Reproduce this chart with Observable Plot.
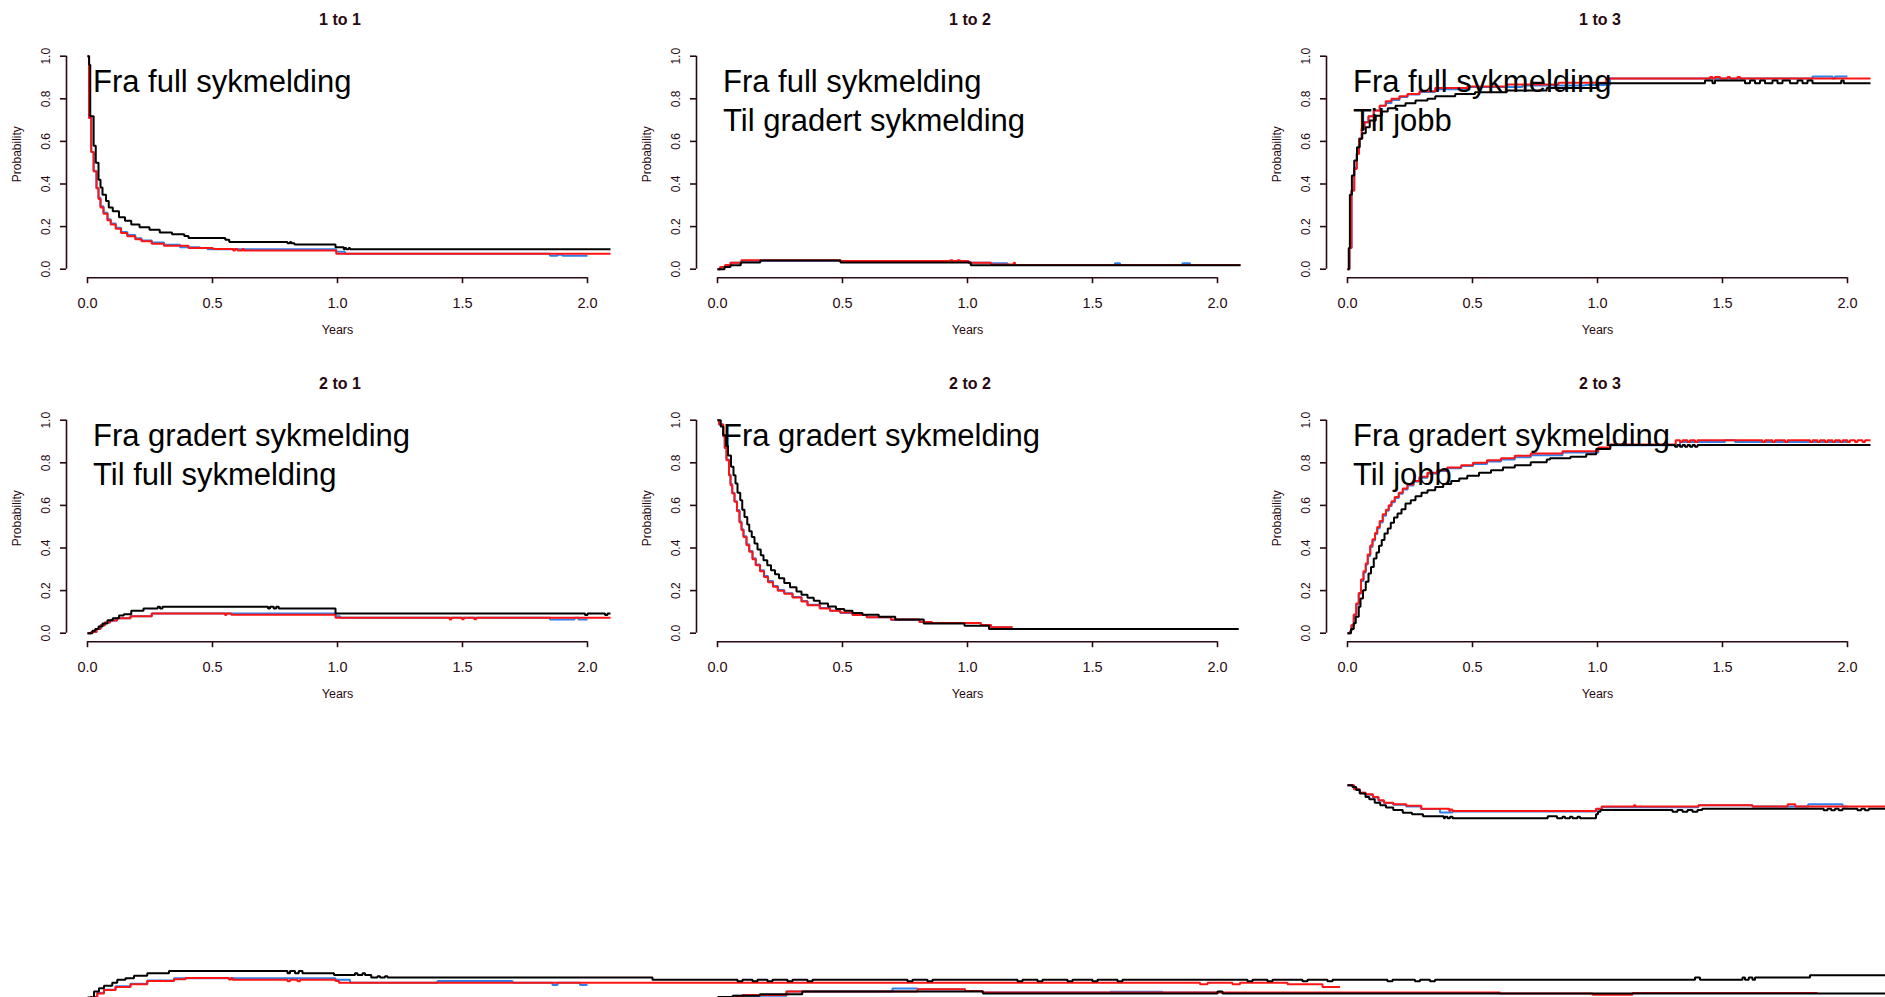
<!DOCTYPE html>
<html>
<head>
<meta charset="utf-8">
<script src="https://cdn.jsdelivr.net/npm/d3@7"></script>
<script src="https://cdn.jsdelivr.net/npm/@observablehq/plot@0.6"></script>
<style>
  html, body { margin: 0; padding: 0; background: #fff; overflow: hidden; }
  #page { position: relative; width: 1885px; height: 997px; overflow: hidden; background: #fff;
          font-family: "Liberation Sans", Arial, sans-serif; }
  .cell { position: absolute; }
</style>
</head>
<body>
<div id="page"></div>
<script>
// ---- axis ticks and panel texts ----
const yTicks = [0, 0.2, 0.4, 0.6, 0.8, 1.0];
const xTicks = [0, 0.5, 1.0, 1.5, 2.0];
const panelTitles = ["1 to 1", "1 to 2", "1 to 3", "2 to 1", "2 to 2", "2 to 3"];
const panelNotes = [
  ["Fra full sykmelding"],
  ["Fra full sykmelding", "Til gradert sykmelding"],
  ["Fra full sykmelding", "Til jobb"],
  ["Fra gradert sykmelding", "Til full sykmelding"],
  ["Fra gradert sykmelding"],
  ["Fra gradert sykmelding", "Til jobb"]
];
const noteX = 0.022;                       // years
const noteY = [[0.88, 0.695], [0.925, 0.742]]; // per row, one per text line

// ---- estimated transition probabilities: [years, probability], step functions ----
// 1 -> 1
const black11 = [[0,1],[0.0065,0.96],[0.011,0.718],[0.0245,0.58],[0.033,0.50],[0.044,0.42],[0.052,0.383],[0.060,0.35],[0.074,0.32],[0.085,0.29],[0.101,0.272],[0.126,0.244],[0.150,0.228],[0.175,0.21],[0.208,0.197],[0.248,0.185],[0.289,0.172],[0.338,0.164],[0.387,0.156],[0.404,0.147],[0.551,0.138],[0.567,0.128],[0.80,0.122],[0.81,0.128],[0.815,0.122],[0.828,0.116],[0.992,0.103],[1.025,0.094],[1.03,0.10],[1.035,0.094],[1.045,0.10],[1.05,0.094],[2.092,0.094]];
const red11 = [[0,1],[0.006,0.71],[0.015,0.55],[0.0245,0.46],[0.036,0.38],[0.044,0.33],[0.052,0.29],[0.064,0.26],[0.080,0.23],[0.093,0.21],[0.113,0.19],[0.134,0.17],[0.159,0.155],[0.191,0.141],[0.216,0.131],[0.257,0.119],[0.306,0.11],[0.404,0.10],[0.502,0.095],[0.583,0.088],[0.59,0.095],[0.60,0.088],[0.62,0.095],[0.625,0.088],[0.995,0.072],[2.092,0.072]];
const blue11 = [[0,1],[0.006,0.71],[0.015,0.55],[0.0245,0.46],[0.036,0.38],[0.044,0.335],[0.052,0.295],[0.064,0.265],[0.080,0.235],[0.093,0.215],[0.113,0.195],[0.134,0.175],[0.159,0.16],[0.191,0.145],[0.216,0.135],[0.257,0.125],[0.306,0.115],[0.37,0.103],[0.45,0.10],[0.48,0.094],[0.995,0.082],[1.03,0.072],[1.85,0.063],[1.88,0.068],[1.90,0.063],[2.0,0.063]];
// 1 -> 2
const black12 = [[0,0],[0.028,0.01],[0.052,0.019],[0.093,0.031],[0.171,0.041],[0.492,0.031],[1.013,0.019],[2.092,0.019]];
const red12 = [[0,0],[0.011,0.01],[0.031,0.02],[0.052,0.03],[0.096,0.042],[0.492,0.038],[0.93,0.042],[0.94,0.038],[0.96,0.042],[0.97,0.038],[1.004,0.03],[1.094,0.022],[1.185,0.03],[1.19,0.02],[2.092,0.02]];
const blue12 = [[0,0],[0.011,0.01],[0.031,0.02],[0.052,0.03],[0.096,0.04],[0.492,0.036],[1.004,0.03],[1.094,0.028],[1.16,0.02],[1.59,0.028],[1.61,0.02],[1.86,0.028],[1.89,0.02],[2.0,0.02]];
// 1 -> 3
const black13 = [[0,0],[0.005,0.1],[0.0095,0.349],[0.0175,0.44],[0.027,0.51],[0.038,0.573],[0.049,0.612],[0.059,0.638],[0.073,0.667],[0.089,0.698],[0.113,0.721],[0.137,0.74],[0.161,0.756],[0.192,0.768],[0.232,0.779],[0.272,0.792],[0.32,0.80],[0.351,0.812],[0.431,0.823],[0.51,0.831],[0.637,0.839],[0.797,0.851],[1.003,0.873],[1.43,0.886],[1.46,0.873],[1.47,0.886],[1.59,0.873],[1.61,0.886],[1.63,0.873],[1.65,0.886],[1.67,0.873],[1.70,0.886],[1.72,0.873],[1.74,0.886],[1.77,0.873],[1.80,0.886],[1.82,0.873],[1.84,0.886],[1.86,0.873],[1.975,0.886],[1.985,0.873],[2.092,0.873]];
const red13 = [[0,0],[0.008,0.1],[0.016,0.369],[0.027,0.471],[0.037,0.541],[0.046,0.612],[0.057,0.659],[0.068,0.69],[0.084,0.718],[0.105,0.745],[0.129,0.768],[0.153,0.789],[0.176,0.80],[0.208,0.812],[0.24,0.823],[0.288,0.836],[0.351,0.851],[0.48,0.858],[0.637,0.867],[0.844,0.876],[1.035,0.895],[1.45,0.903],[1.46,0.895],[1.47,0.903],[1.49,0.895],[1.52,0.903],[1.53,0.895],[1.56,0.903],[1.57,0.895],[2.092,0.895]];
const blue13 = [[0,0],[0.008,0.1],[0.016,0.369],[0.027,0.475],[0.037,0.545],[0.046,0.612],[0.057,0.659],[0.068,0.69],[0.084,0.718],[0.105,0.745],[0.129,0.768],[0.153,0.78],[0.176,0.795],[0.208,0.808],[0.24,0.82],[0.288,0.832],[0.351,0.845],[0.48,0.855],[0.7,0.862],[0.95,0.865],[1.05,0.895],[1.86,0.905],[1.94,0.895],[1.95,0.905],[2.0,0.905]];
// 2 -> 1
const black21 = [[0,0],[0.0196,0.011],[0.031,0.02],[0.044,0.031],[0.06,0.045],[0.08,0.061],[0.101,0.07],[0.126,0.083],[0.145,0.089],[0.175,0.105],[0.224,0.116],[0.281,0.124],[0.29,0.116],[0.30,0.124],[0.722,0.116],[0.73,0.124],[0.745,0.116],[0.755,0.124],[0.765,0.116],[0.992,0.092],[1.99,0.085],[2.0,0.092],[2.07,0.085],[2.08,0.092],[2.092,0.092]];
const red21 = [[0,0],[0.015,0.005],[0.036,0.02],[0.052,0.036],[0.069,0.05],[0.09,0.059],[0.118,0.07],[0.172,0.08],[0.257,0.092],[0.55,0.085],[0.556,0.092],[0.575,0.086],[0.992,0.072],[1.449,0.064],[1.455,0.072],[1.498,0.066],[1.505,0.072],[1.547,0.066],[1.555,0.072],[2.092,0.072]];
const blue21 = [[0,0],[0.015,0.005],[0.036,0.02],[0.052,0.038],[0.069,0.05],[0.09,0.06],[0.118,0.07],[0.172,0.08],[0.257,0.092],[0.992,0.08],[1.01,0.072],[1.85,0.064],[1.948,0.072],[1.964,0.064],[2.0,0.064]];
// 2 -> 2
const black22 = [[0,1],[0.013,0.97],[0.023,0.93],[0.034,0.879],[0.042,0.834],[0.054,0.781],[0.064,0.742],[0.072,0.703],[0.08,0.659],[0.091,0.624],[0.099,0.58],[0.108,0.546],[0.119,0.51],[0.127,0.479],[0.137,0.452],[0.148,0.421],[0.16,0.393],[0.173,0.366],[0.184,0.343],[0.199,0.319],[0.214,0.296],[0.23,0.277],[0.246,0.258],[0.267,0.236],[0.29,0.216],[0.316,0.196],[0.336,0.18],[0.36,0.166],[0.385,0.152],[0.409,0.139],[0.442,0.125],[0.474,0.114],[0.507,0.105],[0.54,0.095],[0.58,0.086],[0.645,0.077],[0.711,0.064],[0.825,0.045],[0.988,0.035],[1.086,0.02],[2.085,0.02]];
const red22 = [[0,1],[0.0065,0.98],[0.023,0.925],[0.029,0.87],[0.036,0.812],[0.046,0.742],[0.052,0.695],[0.059,0.656],[0.068,0.617],[0.078,0.573],[0.088,0.52],[0.096,0.484],[0.104,0.452],[0.116,0.413],[0.127,0.382],[0.14,0.347],[0.153,0.319],[0.17,0.291],[0.186,0.264],[0.202,0.239],[0.222,0.218],[0.241,0.199],[0.267,0.185],[0.3,0.167],[0.336,0.149],[0.36,0.131],[0.409,0.116],[0.45,0.105],[0.491,0.097],[0.54,0.085],[0.597,0.075],[0.694,0.064],[0.808,0.053],[0.857,0.048],[1.053,0.038],[1.094,0.028],[1.18,0.028]];
const blue22 = [[0,1],[0.0065,0.98],[0.023,0.925],[0.029,0.87],[0.036,0.815],[0.046,0.745],[0.052,0.70],[0.059,0.66],[0.068,0.62],[0.078,0.578],[0.088,0.525],[0.096,0.488],[0.104,0.455],[0.116,0.418],[0.127,0.386],[0.14,0.352],[0.153,0.322],[0.17,0.295],[0.186,0.268],[0.202,0.245],[0.222,0.222],[0.241,0.203],[0.267,0.188],[0.3,0.17],[0.336,0.151],[0.36,0.134],[0.409,0.118],[0.45,0.105],[0.491,0.095],[0.54,0.085],[0.597,0.075],[0.694,0.062],[0.808,0.053],[0.857,0.048],[1.053,0.038],[1.094,0.028],[1.18,0.028]];
// 2 -> 3
const black23 = [[0,0],[0.014,0.02],[0.025,0.047],[0.033,0.077],[0.045,0.124],[0.052,0.163],[0.062,0.202],[0.073,0.241],[0.084,0.28],[0.094,0.311],[0.105,0.351],[0.116,0.379],[0.126,0.41],[0.137,0.437],[0.148,0.468],[0.161,0.491],[0.173,0.518],[0.186,0.543],[0.2,0.562],[0.216,0.582],[0.232,0.609],[0.253,0.624],[0.272,0.643],[0.296,0.659],[0.32,0.671],[0.351,0.687],[0.383,0.70],[0.415,0.715],[0.447,0.726],[0.479,0.739],[0.526,0.753],[0.574,0.765],[0.622,0.778],[0.669,0.789],[0.733,0.803],[0.797,0.815],[0.81,0.822],[0.892,0.828],[0.955,0.84],[0.995,0.865],[1.051,0.884],[1.31,0.876],[1.32,0.884],[1.33,0.876],[1.34,0.884],[1.35,0.876],[1.36,0.884],[1.37,0.876],[1.38,0.884],[1.39,0.876],[1.40,0.884],[2.092,0.884]];
const red23 = [[0,0],[0.011,0.01],[0.016,0.038],[0.025,0.088],[0.035,0.139],[0.045,0.189],[0.054,0.252],[0.064,0.291],[0.073,0.327],[0.081,0.369],[0.091,0.412],[0.1,0.441],[0.11,0.471],[0.119,0.499],[0.129,0.527],[0.141,0.559],[0.154,0.58],[0.165,0.601],[0.176,0.62],[0.189,0.64],[0.205,0.66],[0.221,0.679],[0.24,0.698],[0.264,0.715],[0.288,0.734],[0.32,0.753],[0.359,0.765],[0.399,0.778],[0.455,0.789],[0.502,0.80],[0.558,0.812],[0.614,0.822],[0.669,0.833],[0.733,0.844],[0.86,0.854],[1.003,0.872],[1.051,0.886],[1.313,0.906],[1.33,0.898],[1.34,0.906],[1.36,0.898],[1.37,0.906],[1.39,0.898],[1.40,0.906],[1.66,0.898],[1.67,0.906],[1.70,0.898],[1.71,0.906],[1.75,0.898],[1.76,0.906],[1.85,0.898],[1.86,0.906],[1.88,0.898],[1.89,0.906],[1.91,0.898],[1.92,0.906],[1.94,0.898],[1.95,0.906],[1.97,0.898],[1.98,0.906],[2.00,0.898],[2.01,0.906],[2.03,0.898],[2.04,0.906],[2.06,0.898],[2.07,0.906],[2.092,0.906]];
const blue23 = [[0,0],[0.011,0.01],[0.016,0.035],[0.025,0.085],[0.035,0.135],[0.045,0.185],[0.054,0.245],[0.064,0.285],[0.073,0.322],[0.081,0.362],[0.091,0.405],[0.1,0.435],[0.11,0.465],[0.119,0.493],[0.129,0.52],[0.141,0.552],[0.154,0.575],[0.165,0.596],[0.176,0.615],[0.189,0.635],[0.205,0.655],[0.221,0.675],[0.24,0.694],[0.264,0.712],[0.288,0.73],[0.32,0.75],[0.359,0.762],[0.399,0.774],[0.455,0.785],[0.502,0.795],[0.558,0.806],[0.614,0.815],[0.669,0.826],[0.733,0.836],[0.86,0.848],[1.003,0.87],[1.051,0.882],[1.33,0.898],[1.5,0.898],[1.51,0.906],[1.55,0.898],[2.0,0.898]];
// third row (3 -> 1, 3 -> 2, 3 -> 3), plotted without axes
const black31 = [[0,0.003],[0.026,0.031],[0.046,0.047],[0.066,0.058],[0.099,0.073],[0.119,0.086],[0.152,0.094],[0.186,0.105],[0.239,0.117],[0.326,0.128],[0.80,0.117],[0.81,0.128],[0.83,0.117],[0.845,0.128],[0.86,0.117],[0.986,0.109],[1.07,0.117],[1.08,0.109],[1.10,0.117],[1.11,0.109],[1.135,0.097],[1.16,0.103],[1.17,0.097],[1.19,0.103],[1.20,0.097],[2.26,0.086],[2.60,0.080],[2.62,0.086],[2.66,0.080],[2.68,0.086],[2.72,0.080],[2.74,0.086],[2.80,0.080],[2.82,0.086],[2.88,0.080],[2.90,0.086],[3.28,0.080],[3.30,0.086],[3.36,0.080],[3.38,0.086],[3.72,0.080],[3.74,0.086],[3.80,0.080],[3.82,0.086],[3.92,0.080],[3.94,0.086],[4.02,0.080],[4.04,0.086],[4.12,0.080],[4.14,0.086],[4.64,0.080],[4.66,0.086],[4.72,0.080],[4.74,0.086],[4.86,0.080],[4.88,0.086],[4.96,0.080],[4.98,0.086],[5.20,0.080],[5.22,0.086],[5.31,0.080],[5.33,0.086],[5.37,0.080],[5.39,0.086],[6.43,0.097],[6.45,0.086],[6.62,0.097],[6.63,0.086],[6.645,0.097],[6.66,0.086],[6.67,0.097],[6.89,0.108],[7.2,0.108]];
const red31 = [[0,0],[0.012,0.006],[0.039,0.022],[0.066,0.038],[0.112,0.053],[0.172,0.066],[0.239,0.081],[0.346,0.089],[0.392,0.095],[0.565,0.088],[0.575,0.095],[0.58,0.086],[0.80,0.08],[0.81,0.086],[0.84,0.08],[0.85,0.086],[0.992,0.081],[1.006,0.073],[4.45,0.066],[4.48,0.073],[4.58,0.066],[4.61,0.073],[4.80,0.066],[4.94,0.053],[5.01,0.053]];
const blue31 = [[0,0],[0.012,0.006],[0.039,0.024],[0.066,0.04],[0.112,0.056],[0.172,0.068],[0.239,0.083],[0.346,0.094],[0.992,0.086],[1.05,0.073],[1.4,0.081],[1.7,0.073],[1.86,0.062],[1.88,0.073],[1.97,0.062],[2.0,0.062]];
const black32 = [[0,0.006],[0.062,0.011],[0.169,0.019],[0.339,0.031],[1.062,0.022],[2.0,0.031],[2.02,0.022],[4.67,0.022]];
const red32 = [[0,0],[0.03,0.006],[0.1,0.015],[0.276,0.031],[0.80,0.042],[0.99,0.034],[1.06,0.027],[3.13,0.022],[3.5,0.016],[3.66,0.024],[4.4,0.024]];
const blue32 = [[0,0],[0.06,0.011],[0.276,0.031],[0.70,0.045],[0.80,0.042],[0.99,0.034],[1.06,0.027],[1.57,0.03],[1.78,0.027],[2.0,0.027]];
const black33 = [[0,1],[0.02,0.992],[0.035,0.977],[0.049,0.961],[0.072,0.945],[0.087,0.934],[0.109,0.918],[0.131,0.906],[0.154,0.895],[0.183,0.884],[0.221,0.871],[0.258,0.864],[0.302,0.854],[0.385,0.845],[0.39,0.852],[0.40,0.845],[0.41,0.852],[0.42,0.845],[0.801,0.854],[0.838,0.845],[0.86,0.852],[0.87,0.845],[0.89,0.852],[0.90,0.845],[0.92,0.852],[0.93,0.845],[0.994,0.864],[1.002,0.875],[1.012,0.884],[1.30,0.875],[1.32,0.884],[1.34,0.875],[1.36,0.884],[1.38,0.875],[1.40,0.884],[1.419,0.89],[1.905,0.882],[1.92,0.89],[1.935,0.882],[1.95,0.89],[1.965,0.882],[1.98,0.89],[2.04,0.882],[2.055,0.89],[2.07,0.882],[2.085,0.89],[2.16,0.89]];
const red33 = [[0,1],[0.026,0.981],[0.049,0.965],[0.072,0.958],[0.102,0.945],[0.124,0.929],[0.146,0.918],[0.183,0.911],[0.235,0.903],[0.295,0.89],[0.407,0.879],[0.41,0.886],[0.42,0.879],[0.994,0.89],[1.017,0.90],[1.146,0.906],[1.152,0.90],[1.404,0.906],[1.62,0.90],[1.761,0.911],[1.791,0.90],[2.16,0.90]];
const blue33 = [[0,1],[0.026,0.981],[0.049,0.965],[0.072,0.955],[0.102,0.942],[0.124,0.927],[0.146,0.916],[0.183,0.908],[0.235,0.9],[0.295,0.888],[0.37,0.872],[0.42,0.877],[0.994,0.885],[1.017,0.897],[1.404,0.906],[1.62,0.90],[1.843,0.911],[1.98,0.90],[2.0,0.90]];

const panelSeries = [
  [blue11, red11, black11], [blue12, red12, black12], [blue13, red13, black13],
  [blue21, red21, black21], [blue22, red22, black22], [blue23, red23, black23]
];
const lowerSeries = [[blue31, red31, black31], [blue32, red32, black32], [blue33, red33, black33]];

// ---- layout ----
const INK = "#2a0a12";
const SERIES_COLORS = ["#2f80ed", "#ff1414", "#000000"];
const X0 = -0.084, X1 = 2.176;
const Y_DOMAIN = [-0.04, 1.04];
const PX_PER_YEAR = 250;
const M_LEFT = 66, M_TOP = 47.2, PLOT_H = 230, SVG_H = 364;
const colLeft = [0, 630, 1260.4];
const rowTop = [0, 364.3, 728.6];
const page = document.getElementById("page");

const baseStyle = {background: "transparent", maxWidth: "none", overflow: "visible",
  fontFamily: "'Liberation Sans', Arial, Helvetica, sans-serif"};

function stepLines(seriesList) {
  return seriesList.map((data, k) => Plot.line(data, {
    x: d => d[0], y: d => d[1], curve: "step-after",
    stroke: SERIES_COLORS[k], strokeWidth: 2, strokeLinejoin: "miter", strokeLinecap: "butt"
  }));
}

function place(svg, left, top, width) {
  const div = document.createElement("div");
  div.className = "cell";
  div.style.left = left + "px";
  div.style.top = top + "px";
  div.style.width = width + "px";
  div.appendChild(svg);
  page.appendChild(div);
}

function drawPanel(i) {
  const row = Math.floor(i / 3), col = i % 3;
  const width = M_LEFT + (X1 - X0) * PX_PER_YEAR;
  const notes = panelNotes[i];
  const chart = Plot.plot({
    width, height: SVG_H,
    marginLeft: M_LEFT, marginRight: 0, marginTop: M_TOP, marginBottom: SVG_H - M_TOP - PLOT_H,
    x: {domain: [X0, X1]},
    y: {domain: Y_DOMAIN},
    style: baseStyle,
    marks: [
      // axis lines span the tick range, as in base R graphics
      Plot.ruleX([X0], {y1: yTicks[0], y2: yTicks[yTicks.length - 1], stroke: INK, strokeWidth: 1.6}),
      Plot.ruleY([Y_DOMAIN[0]], {x1: xTicks[0], x2: xTicks[xTicks.length - 1], stroke: INK, strokeWidth: 1.6}),
      Plot.axisY(yTicks, {tickSize: 6, tickFormat: () => "", label: null, color: INK, strokeWidth: 1.6}),
      Plot.axisX(xTicks, {tickSize: 6, tickFormat: () => "", label: null, color: INK, strokeWidth: 1.6}),
      Plot.text(yTicks, {frameAnchor: "left", y: d => d, text: d => d.toFixed(1), rotate: -90, dx: -20,
        textAnchor: "middle", lineAnchor: "middle", fontSize: 12, fill: INK}),
      Plot.text(xTicks, {frameAnchor: "bottom", x: d => d, text: d => d.toFixed(1), dy: 26,
        textAnchor: "middle", lineAnchor: "middle", fontSize: 14.5, fill: INK}),
      Plot.text(["Probability"], {frameAnchor: "left", y: 0.54, text: d => d, rotate: -90, dx: -49,
        textAnchor: "middle", lineAnchor: "middle", fontSize: 12, fill: INK}),
      Plot.text(["Years"], {frameAnchor: "bottom", x: 1, text: d => d, dy: 52.5,
        textAnchor: "middle", lineAnchor: "middle", fontSize: 12.5, fill: INK}),
      Plot.text([panelTitles[i]], {frameAnchor: "top", x: 1.01, text: d => d, dy: 19 - M_TOP,
        textAnchor: "middle", lineAnchor: "middle", fontSize: 16, fontWeight: "bold", fill: INK}),
      ...stepLines(panelSeries[i]),
      Plot.text(notes, {x: noteX, y: (d, j) => noteY[row][j], text: d => d,
        textAnchor: "start", lineAnchor: "middle", fontSize: 31, fill: "#000"})
    ]
  });
  place(chart, colLeft[col], rowTop[row], width);
}

function drawLower(col) {
  const width = 1885 - colLeft[col] + 10;
  const xMax = X0 + (width - M_LEFT) / PX_PER_YEAR;
  const chart = Plot.plot({
    width, height: SVG_H,
    marginLeft: M_LEFT, marginRight: 0, marginTop: M_TOP, marginBottom: SVG_H - M_TOP - PLOT_H,
    x: {domain: [X0, xMax], axis: null},
    y: {domain: Y_DOMAIN, axis: null},
    style: baseStyle,
    marks: stepLines(lowerSeries[col])
  });
  place(chart, colLeft[col], rowTop[2], width);
}

for (let c = 0; c < 3; ++c) drawLower(c);
for (let i = 0; i < 6; ++i) drawPanel(i);
</script>
</body>
</html>
